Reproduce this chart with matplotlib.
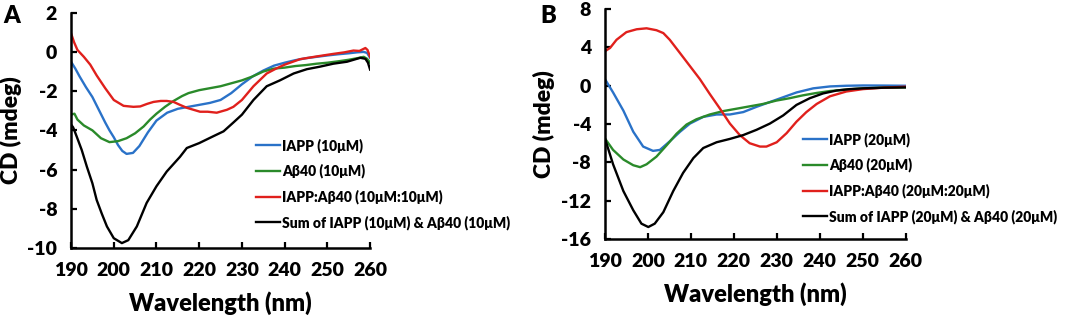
import matplotlib.pyplot as plt
import numpy as np

plt.rcParams['font.family'] = ['Lato', 'DejaVu Sans']
plt.rcParams['font.weight'] = 'bold'
plt.rcParams['axes.unicode_minus'] = False

# ---- panel A (10 uM) ----
a_iapp_x = [190, 191, 192, 193.5, 195, 196.5, 198, 199, 200, 201, 202, 203, 204.5, 206, 208, 210, 212.5, 215, 217.5, 220, 222.5, 225, 227.5, 230, 232.5, 235, 237.5, 240, 242.5, 245, 247.5, 250, 252.5, 255, 257, 258.5, 259.3, 260]
a_iapp_y = [-0.5, -0.85, -1.25, -1.8, -2.3, -2.95, -3.6, -4.0, -4.35, -4.75, -5.05, -5.2, -5.15, -4.8, -4.1, -3.5, -3.1, -2.9, -2.8, -2.7, -2.6, -2.45, -2.1, -1.65, -1.25, -0.95, -0.7, -0.55, -0.42, -0.32, -0.25, -0.18, -0.12, -0.07, -0.02, 0.0, -0.05, -0.3]

a_ab_x = [190, 190.8, 191.5, 193, 195, 197, 199, 201, 203, 205, 207, 208.5, 210, 212, 214, 216, 217.5, 220, 222.5, 225, 227.5, 230, 232.5, 235, 237.5, 240, 242.5, 245, 247.5, 250, 252.5, 255, 257, 258.5, 259.3, 260]
a_ab_y = [-3.2, -3.15, -3.45, -3.75, -4.0, -4.4, -4.6, -4.55, -4.4, -4.15, -3.8, -3.45, -3.15, -2.8, -2.5, -2.25, -2.1, -1.95, -1.85, -1.75, -1.6, -1.45, -1.25, -1.0, -0.85, -0.8, -0.72, -0.67, -0.6, -0.55, -0.48, -0.4, -0.32, -0.25, -0.35, -0.55]

a_mix_x = [190, 190.7, 191.5, 193, 194.5, 196, 198, 200, 202.3, 204.6, 206.2, 207.8, 209.3, 211, 212.4, 214, 215.5, 217.1, 220.2, 222, 224.1, 226.5, 228, 230, 232.7, 235.8, 238, 240, 243.6, 247.5, 251.4, 254, 256.1, 257.5, 258.9, 259.4, 260]
a_mix_y = [0.95, 0.5, 0.1, -0.25, -0.65, -1.2, -1.85, -2.45, -2.75, -2.8, -2.78, -2.65, -2.55, -2.5, -2.5, -2.55, -2.7, -2.85, -3.05, -3.05, -3.1, -2.95, -2.8, -2.45, -1.75, -1.1, -0.85, -0.65, -0.37, -0.23, -0.1, -0.02, 0.07, 0.05, 0.2, 0.1, -0.25]

a_sum_x = [190, 190.5, 191.3, 192.5, 193.7, 195, 196, 197.2, 198.4, 200, 201.9, 203.4, 205.4, 207.7, 210, 212.4, 215.5, 217.1, 220, 223.3, 225.7, 228, 230, 232.7, 235.8, 238.9, 242.1, 245.2, 248.3, 251.4, 254.6, 257.7, 258.9, 259.5, 260]
a_sum_y = [-3.7, -3.85, -4.3, -5.0, -5.85, -6.7, -7.55, -8.25, -8.9, -9.5, -9.75, -9.6, -8.9, -7.7, -6.85, -6.1, -5.35, -4.9, -4.65, -4.3, -4.05, -3.6, -3.2, -2.45, -1.75, -1.45, -1.1, -0.88, -0.75, -0.6, -0.5, -0.3, -0.35, -0.55, -0.9]

# ---- panel B (20 uM) ----
b_iapp_x = [190, 191.9, 194.3, 196.6, 198.9, 201.2, 202.8, 205.1, 207.5, 209.8, 212.9, 216, 219.1, 222.2, 225.3, 228.4, 231.5, 234.6, 238.5, 242.4, 246.2, 250.1, 255, 260]
b_iapp_y = [0.7, -0.7, -2.6, -4.8, -6.35, -6.8, -6.7, -5.8, -4.8, -3.95, -3.25, -3.0, -3.0, -2.75, -2.2, -1.7, -1.2, -0.7, -0.27, -0.07, 0.0, 0.03, 0.02, 0.0]

b_ab_x = [190, 191.9, 194.3, 196.6, 198.2, 199.7, 202, 204.4, 206.7, 209, 211.3, 214.4, 217.5, 220.6, 223.7, 226.8, 229.9, 233, 236.1, 239.3, 242.4, 246.2, 250.1, 255, 260]
b_ab_y = [-5.5, -6.7, -7.7, -8.3, -8.5, -8.2, -7.4, -6.2, -5.0, -4.05, -3.5, -3.0, -2.65, -2.4, -2.15, -1.9, -1.55, -1.3, -1.0, -0.75, -0.55, -0.4, -0.27, -0.2, -0.17]

b_mix_x = [190, 191.2, 192.7, 195, 197.4, 199.7, 202, 203.6, 205.1, 207.5, 209.8, 212.1, 214.4, 216.8, 219.1, 221.4, 223.7, 226.1, 227.6, 230, 232.3, 234.6, 236.9, 239.3, 242.4, 246.2, 250.1, 254.8, 260]
b_mix_y = [3.6, 3.95, 4.8, 5.6, 5.9, 6.0, 5.8, 5.5, 4.8, 3.4, 2.05, 0.7, -0.85, -2.4, -3.95, -5.15, -6.0, -6.35, -6.35, -5.9, -4.95, -3.75, -2.75, -1.9, -1.1, -0.6, -0.35, -0.2, -0.1]

b_sum_x = [190, 191.9, 194.3, 196.6, 198.5, 200.1, 201.6, 203.6, 205.9, 208.2, 210.6, 212.9, 216, 219.1, 222.2, 225.3, 228.4, 231.5, 234.6, 237.7, 240.8, 243.9, 247, 250.1, 255, 260]
b_sum_y = [-5.5, -8.2, -11.0, -13.0, -14.4, -14.75, -14.4, -13.2, -11.0, -9.1, -7.55, -6.5, -5.9, -5.55, -5.15, -4.6, -3.95, -3.1, -2.0, -1.3, -0.8, -0.5, -0.35, -0.27, -0.2, -0.17]

labels_a = ['IAPP (10μM)', 'Aβ40 (10μM)', 'IAPP:Aβ40 (10μM:10μM)', 'Sum of IAPP (10μM) & Aβ40 (10μM)']
labels_b = ['IAPP (20μM)', 'Aβ40 (20μM)', 'IAPP:Aβ40 (20μM:20μM)', 'Sum of IAPP (20μM) & Aβ40 (20μM)']
colors = ['#2a72c8', '#2a8a2a', '#e0201c', '#000000']

xticks = [190, 200, 210, 220, 230, 240, 250, 260]
yticks_a = [2, 0, -2, -4, -6, -8, -10]
yticks_b = [8, 4, 0, -4, -8, -12, -16]

fig = plt.figure(figsize=(10.65, 3.21), dpi=100)
ax_a = fig.add_axes([0.0667, 0.2274, 0.2808, 0.733])
ax_b = fig.add_axes([0.568, 0.2555, 0.2823, 0.716])


def style(ax, yticks):
    for s in ['top', 'right']:
        ax.spines[s].set_visible(False)
    for s in ['left', 'bottom']:
        ax.spines[s].set_linewidth(1.8)
    ax.set_xlim(190, 260)
    ax.set_ylim(min(yticks), max(yticks))
    ax.set_xticks(xticks)
    ax.set_yticks(yticks)
    ax.tick_params(direction='in', length=4, width=1.6, labelsize=14, pad=10)
    for lab in ax.get_xticklabels() + ax.get_yticklabels():
        lab.set_fontweight('heavy')
    ax.set_xlabel('Wavelength (nm)', fontsize=17, fontweight='heavy', labelpad=9)
    ax.set_ylabel('CD (mdeg)', fontsize=16.5, fontweight='heavy', labelpad=4)


series_a = [(a_iapp_x, a_iapp_y), (a_ab_x, a_ab_y), (a_mix_x, a_mix_y), (a_sum_x, a_sum_y)]
series_b = [(b_iapp_x, b_iapp_y), (b_ab_x, b_ab_y), (b_mix_x, b_mix_y), (b_sum_x, b_sum_y)]

for (x, y), c, lab in zip(series_a, colors, labels_a):
    ax_a.plot(x, y, color=c, lw=1.7, label=lab)
for (x, y), c, lab in zip(series_b, colors, labels_b):
    ax_b.plot(x, y, color=c, lw=1.7, label=lab)

style(ax_a, yticks_a)
style(ax_b, yticks_b)

leg_kw = dict(frameon=False, handlelength=1.7, handletextpad=0.15, labelspacing=0.8,
              prop={'size': 10, 'weight': 'heavy'}, borderaxespad=0, borderpad=0)
ax_a.legend(loc='upper left', bbox_to_anchor=(256 / 1065, 1 - 138 / 321),
            bbox_transform=fig.transFigure, **leg_kw)
ax_b.legend(loc='upper left', bbox_to_anchor=(803 / 1065, 1 - 132 / 321),
            bbox_transform=fig.transFigure, **leg_kw)

fig.text(12 / 1065, 1 - 16 / 321, 'A', fontsize=17, fontweight='heavy', va='center', ha='center')
fig.text(548 / 1065, 1 - 16 / 321, 'B', fontsize=17, fontweight='heavy', va='center', ha='center')

fig.savefig('out.png', dpi=100)
